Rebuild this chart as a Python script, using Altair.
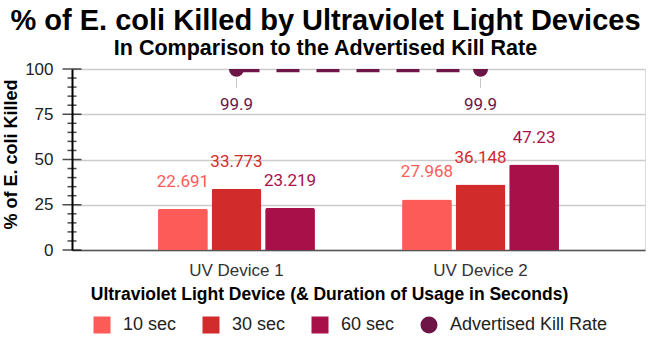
import altair as alt
import pandas as pd

# ---- data -----------------------------------------------------------------
devices = ["UV Device 1", "UV Device 2"]
durations = ["10 sec", "30 sec", "60 sec"]
killed_10s = [22.691, 27.968]
killed_30s = [33.773, 36.148]
killed_60s = [23.219, 47.23]
advertised_name = "Advertised Kill Rate"
advertised_rate = [99.9, 99.9]

major_ticks = [0, 25, 50, 75, 100]
minor_ticks = [5, 10, 15, 20, 30, 35, 40, 45, 55, 60, 65, 70, 80, 85, 90, 95]

series_names = durations + [advertised_name]
series_colors = ["#fd5b58", "#d22b2b", "#a8104a", "#6c1546"]
series_shapes = ["square", "square", "square", "circle"]

bars_df = pd.DataFrame({
    "device": devices * 3,
    "series": [d for d in durations for _ in devices],
    "pct": killed_10s + killed_30s + killed_60s,
})
adv_df = pd.DataFrame({
    "device": devices,
    "series": [advertised_name] * len(devices),
    "pct": advertised_rate,
})
major_df = pd.DataFrame({"pct": major_ticks})
minor_df = pd.DataFrame({"pct": minor_ticks})

SANS = "Liberation Sans"
LABEL_FONT = "Roboto"

# ---- shared encodings -----------------------------------------------------
x_enc = alt.X(
    "device:N",
    sort=devices,
    scale=alt.Scale(domain=devices, paddingInner=0.357, paddingOuter=0.3525),
    axis=alt.Axis(
        title="Ultraviolet Light Device (& Duration of Usage in Seconds)",
        labelFont=SANS, labelFontSize=17, labelColor="#333333", labelAngle=0,
        labelPadding=12, ticks=False,
        domainColor="#555555", domainWidth=1.5,
        titleFont=SANS, titleFontSize=17.5, titleFontWeight="bold", titleColor="black",
        titleX=257, titleY=49, titleAnchor="middle", titleAlign="center",
        titleBaseline="alphabetic",
    ),
)
y_enc = alt.Y(
    "pct:Q",
    scale=alt.Scale(domain=[0, 100], nice=False),
    axis=alt.Axis(
        title="% of E. coli Killed",
        values=major_ticks,
        labelFont=SANS, labelFontSize=17, labelColor="#222222",
        labelPadding=19, ticks=False,
        domainColor="black", domainWidth=2,
        gridColor="#cccccc", gridWidth=1.5,
        titleFont=SANS, titleFontSize=18, titleFontWeight="bold", titleColor="black",
        titleX=-61, titleY=85, titleAngle=270, titleAlign="center",
        titleBaseline="middle",
    ),
)
xo_enc = alt.XOffset(
    "series:N", sort=durations,
    scale=alt.Scale(domain=durations, paddingInner=0.07),
)
legend_def = alt.Legend(
    title=None, orient="none", direction="horizontal", columns=4,
    legendX=21, legendY=247, padding=0,
    symbolSize=289, symbolStrokeWidth=0, symbolOpacity=1,
    labelFont=SANS, labelFontSize=18, labelColor="#222222",
    labelOffset=12, columnPadding=25, labelLimit=300,
)
color_scale = alt.Scale(domain=series_names, range=series_colors)

base = alt.Chart(bars_df)

bars = base.mark_bar(cornerRadiusTopLeft=2, cornerRadiusTopRight=2).encode(
    x=x_enc, xOffset=xo_enc, y=y_enc,
    color=alt.Color("series:N", scale=color_scale, legend=legend_def),
)

bar_labels = base.mark_text(
    font=LABEL_FONT, fontSize=17, baseline="alphabetic", dy=-22
).encode(
    x=x_enc, xOffset=xo_enc, y=y_enc,
    text=alt.Text("pct:Q"),
    color=alt.Color("series:N", scale=color_scale, legend=None),
)

adv = alt.Chart(adv_df)

adv_line = adv.mark_line(
    clip=True, strokeWidth=6, strokeDash=[23, 17], strokeCap="butt",
    color=series_colors[-1],
).encode(x=x_enc, y=y_enc)

adv_points = adv.mark_point(filled=True, size=225, opacity=1, clip=True).encode(
    x=x_enc, y=y_enc,
    color=alt.Color("series:N", scale=color_scale, legend=legend_def),
    shape=alt.Shape("series:N",
                    scale=alt.Scale(domain=series_names, range=series_shapes),
                    legend=legend_def),
)

adv_leader = adv.mark_rule(
    color="#c8c8c8", strokeWidth=1, yOffset=9, y2Offset=19
).encode(x=x_enc, y=y_enc, y2="pct:Q")

adv_labels = adv.mark_text(
    font=LABEL_FONT, fontSize=17, baseline="alphabetic", dy=41
).encode(
    x=x_enc, y=y_enc, text=alt.Text("pct:Q"),
    color=alt.Color("series:N", scale=color_scale, legend=None),
)

# crossing tick marks on the value axis
major_marks = alt.Chart(major_df).mark_tick(
    orient="horizontal", size=19, thickness=1.5, color="black"
).encode(x=alt.value(0), y=y_enc)
minor_marks = alt.Chart(minor_df).mark_tick(
    orient="horizontal", size=9, thickness=1.5, color="black"
).encode(x=alt.value(0), y=y_enc)

chart = alt.layer(
    bars, bar_labels, adv_line, adv_leader, adv_points, adv_labels,
    major_marks, minor_marks,
).properties(
    width=573,
    height=181,
    autosize=alt.AutoSizeParams(type="none"),
    padding={"left": 72, "top": 69, "right": 5, "bottom": 90},
    title=alt.TitleParams(
        text="% of E. coli Killed by Ultraviolet Light Devices",
        subtitle="In Comparison to the Advertised Kill Rate",
        font=SANS, fontSize=29, fontWeight="bold", color="black",
        subtitleFont=SANS, subtitleFontSize=21.5, subtitleFontWeight="bold",
        subtitleColor="black", subtitlePadding=2,
        anchor="middle", dx=-33, offset=1,
    ),
).configure_view(stroke=None).configure(background="white")

chart.save("out.html", embed_options={"renderer": "svg", "actions": False})
